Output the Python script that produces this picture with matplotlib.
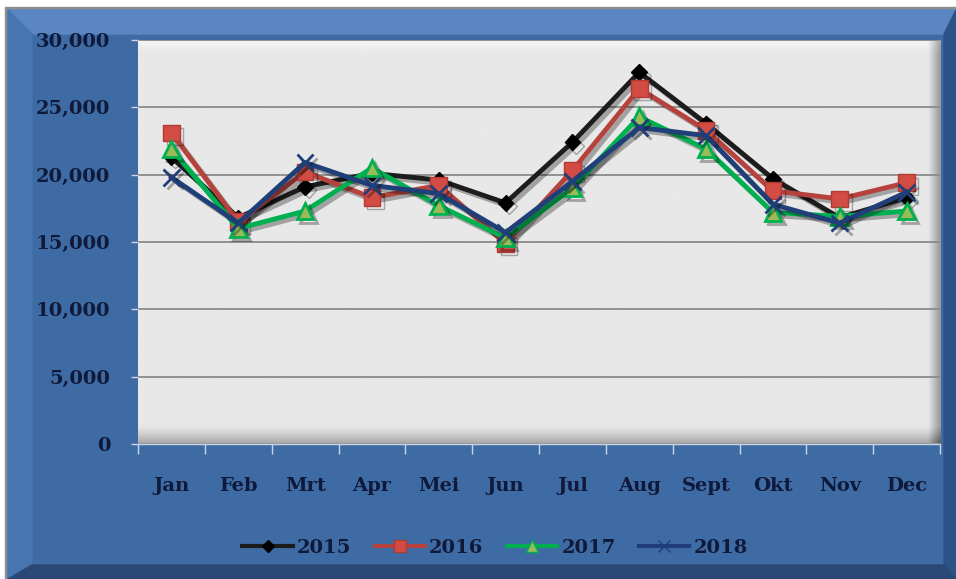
import matplotlib
matplotlib.use('Agg')
import matplotlib.pyplot as plt
import matplotlib.patheffects as pe
from matplotlib.patches import Polygon, Rectangle
from matplotlib.lines import Line2D
from matplotlib.ticker import FuncFormatter, FixedLocator
import numpy as np

months = ['Jan', 'Feb', 'Mrt', 'Apr', 'Mei', 'Jun', 'Jul', 'Aug', 'Sept', 'Okt', 'Nov', 'Dec']
y2015 = [21300, 16800, 19100, 20100, 19600, 17900, 22400, 27600, 23800, 19700, 16800, 18300]
y2016 = [23100, 16500, 20200, 18300, 19200, 14900, 20300, 26400, 23300, 18800, 18200, 19400]
y2017 = [21900, 16000, 17300, 20500, 17700, 15300, 19000, 24300, 21900, 17200, 16900, 17300]
y2018 = [19800, 16400, 20900, 19200, 18600, 15700, 19500, 23500, 22900, 17800, 16400, 18700]
years = ['2015', '2016', '2017', '2018']

NAVY = '#0f1a3a'
BLUE = '#3f6ba5'
W, H = 956, 579

plt.rcParams.update({
    'font.family': 'DejaVu Serif',
    'font.weight': 'bold',
    'font.size': 14,
})

fig = plt.figure(figsize=(W / 100, H / 100), dpi=100)
fig.patch.set_facecolor('white')

# ---- outer blue bevelled frame (pixel coords) ----
bg = fig.add_axes([0, 0, 1, 1], zorder=-10)
bg.set_xlim(0, W)
bg.set_ylim(H, 0)
bg.axis('off')
bg.add_patch(Rectangle((5, 7), W - 5, H - 7, color='#8e8e8e'))
bg.add_patch(Rectangle((8, 10), W - 8, H - 10, color=BLUE))
L, T, R, B = 8, 10, W, H
bw = 24
bg.add_patch(Polygon([(L, T), (R, T), (R - 12, T + bw), (L + bw, T + bw)], color='#5a87c2'))
bg.add_patch(Polygon([(L, T), (L + bw, T + bw), (L + bw, B - 14), (L, B)], color='#4675b0'))
bg.add_patch(Polygon([(R, T), (R, B), (R - 12, B - 14), (R - 12, T + bw)], color='#2d5288'))
bg.add_patch(Polygon([(L, B), (L + bw, B - 14), (R - 12, B - 14), (R, B)], color='#2a4876'))

# ---- plot area ----
ax = fig.add_axes([138 / W, (H - 444) / H, 802 / W, 404 / H])

# light grey wall with a soft 3D bevel
ny, nx = 200, 400
img = np.full((ny, nx), 0.91)
yy = np.linspace(0, 1, ny)[:, None]
xx = np.linspace(0, 1, nx)[None, :]
img = img - 0.25 * np.clip((0.045 - yy) / 0.045, 0, 1) ** 1.3 * np.ones_like(xx)
img = img - 0.30 * np.clip((xx - 0.985) / 0.015, 0, 1) * np.ones_like(yy)
img = img + 0.05 * np.clip((yy - 0.97) / 0.03, 0, 1) * np.ones_like(xx)
img = np.clip(img, 0, 1)
ax.imshow(img, cmap='gray', vmin=0, vmax=1, extent=(0, 1, 0, 1), origin='lower',
          transform=ax.transAxes, aspect='auto', zorder=0, interpolation='bilinear')

x = np.arange(len(months))
shadow = [pe.SimpleLineShadow(offset=(2.5, -2.5), shadow_color='black', alpha=0.3), pe.Normal()]

styles = [
    dict(color='#1c1c1c', marker='D', mfc='black', mec='black', mew=1),
    dict(color='#b5423c', marker='s', mfc='#d24c44', mec='#b23a34', mew=1),
    dict(color='#00b050', marker='^', mfc='#9bbb59', mec='#00b050', mew=2),
    dict(color='#203f78', marker='x', mfc='#203f78', mec='#203f78', mew=2),
]
sizes = [8, 12, 12, 12]
leg_sizes = [6, 9, 8, 8]

for i, (vals, st) in enumerate(zip([y2015, y2016, y2017, y2018], styles)):
    ax.plot(x, vals, lw=3.5, ms=sizes[i], zorder=4 + i, path_effects=shadow, **st)

ax.set_xlim(-0.5, len(months) - 0.5)
ax.set_ylim(0, 30000)

ax.set_yticks(np.arange(0, 30001, 5000))
ax.yaxis.set_major_formatter(FuncFormatter(lambda v, p: f'{int(v):,}'))
ax.grid(True, axis='y', color='#8a8a8a', lw=1.3, zorder=1)
ax.set_axisbelow(True)

ax.set_xticks(x)
ax.set_xticklabels(months)
ax.xaxis.set_minor_locator(FixedLocator(np.arange(-0.5, len(months), 1)))
ax.tick_params(axis='x', which='major', length=0, pad=24, colors=NAVY, labelsize=14)
ax.tick_params(axis='x', which='minor', length=7, width=1, color='#c9d5e6')
ax.tick_params(axis='y', length=5, width=1, color='#c9d5e6', pad=15, labelcolor=NAVY, labelsize=14)
for lbl in ax.get_xticklabels() + ax.get_yticklabels():
    lbl.set_fontweight('bold')

for s in ['top', 'right', 'left']:
    ax.spines[s].set_visible(False)
ax.spines['bottom'].set_color('#c9d5e6')
ax.spines['bottom'].set_linewidth(1)

handles = []
for i, st in enumerate(styles):
    kw = dict(st)
    if kw['marker'] == 'x':
        kw['mew'] = 1
    if kw['marker'] == '^':
        kw['mew'] = 1
    handles.append(Line2D([], [], lw=3, ms=leg_sizes[i], **kw))

leg = fig.legend(handles, years, loc='center', bbox_to_anchor=(495 / W, (H - 548) / H), ncol=4,
                 frameon=False, handlelength=2.6, handletextpad=0.2, columnspacing=1.2,
                 prop={'family': 'DejaVu Serif', 'weight': 'bold', 'size': 14})
for t in leg.get_texts():
    t.set_color(NAVY)

fig.savefig('out.png', dpi=100, facecolor=fig.get_facecolor())
